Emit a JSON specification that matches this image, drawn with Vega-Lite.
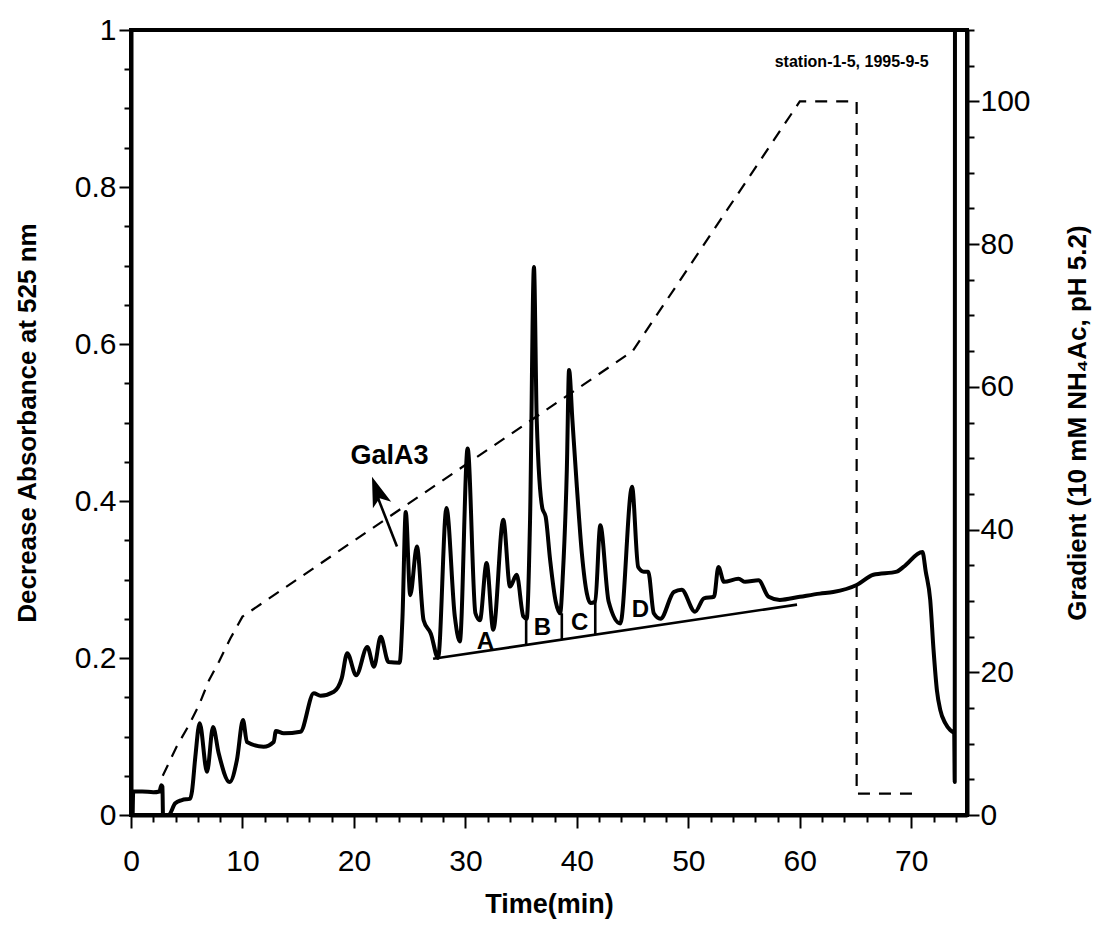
{
  "$schema": "https://vega.github.io/schema/vega-lite/v6.json",
  "width": 836,
  "height": 785,
  "autosize": {"type": "none"},
  "padding": {"left": 131, "top": 30, "right": 128, "bottom": 115},
  "background": "white",
  "config": {
    "view": {"stroke": "black", "strokeWidth": 4},
    "axis": {
      "grid": false,
      "domainColor": "black",
      "domainWidth": 4,
      "tickColor": "black",
      "tickWidth": 2,
      "labelColor": "black",
      "labelFont": "Liberation Sans",
      "labelFontSize": 30,
      "labelFontWeight": "normal",
      "labelOverlap": false,
      "labelFlush": false,
      "labelBound": false,
      "titleColor": "black",
      "titleFont": "Liberation Sans",
      "titleFontWeight": "bold",
      "titleFontSize": 26
    },
    "text": {"font": "Liberation Sans", "fontWeight": "bold", "color": "black"}
  },
  "datasets": {
    "trace": [
      {"t": 0.15, "v": 0.0, "ord": 1},
      {"t": 0.2, "v": 0.03, "ord": 2},
      {"t": 1.0, "v": 0.03, "ord": 3},
      {"t": 2.0, "v": 0.029, "ord": 4},
      {"t": 2.55, "v": 0.03, "ord": 5},
      {"t": 2.72, "v": 0.038, "ord": 6},
      {"t": 2.82, "v": 0.036, "ord": 7},
      {"t": 2.87, "v": 0.0, "ord": 8},
      {"t": 3.37, "v": 0.0, "ord": 9},
      {"t": 3.97, "v": 0.015, "ord": 10},
      {"t": 4.57, "v": 0.019, "ord": 11},
      {"t": 5.32, "v": 0.021, "ord": 12},
      {"t": 5.47, "v": 0.03, "ord": 13},
      {"t": 5.77, "v": 0.074, "ord": 14},
      {"t": 6.16, "v": 0.117, "ord": 15},
      {"t": 6.82, "v": 0.055, "ord": 16},
      {"t": 7.36, "v": 0.112, "ord": 17},
      {"t": 7.86, "v": 0.079, "ord": 18},
      {"t": 8.85, "v": 0.042, "ord": 19},
      {"t": 9.5, "v": 0.07, "ord": 20},
      {"t": 10.05, "v": 0.121, "ord": 21},
      {"t": 10.4, "v": 0.093, "ord": 22},
      {"t": 11.9, "v": 0.087, "ord": 23},
      {"t": 12.8, "v": 0.093, "ord": 24},
      {"t": 13.0, "v": 0.107, "ord": 25},
      {"t": 13.7, "v": 0.104, "ord": 26},
      {"t": 15.2, "v": 0.106, "ord": 27},
      {"t": 16.4, "v": 0.155, "ord": 28},
      {"t": 17.0, "v": 0.152, "ord": 29},
      {"t": 18.2, "v": 0.157, "ord": 30},
      {"t": 18.9, "v": 0.174, "ord": 31},
      {"t": 19.4, "v": 0.206, "ord": 32},
      {"t": 20.2, "v": 0.178, "ord": 33},
      {"t": 21.2, "v": 0.214, "ord": 34},
      {"t": 21.8, "v": 0.189, "ord": 35},
      {"t": 22.4, "v": 0.227, "ord": 36},
      {"t": 23.1, "v": 0.195, "ord": 37},
      {"t": 24.1, "v": 0.194, "ord": 38},
      {"t": 24.35, "v": 0.25, "ord": 39},
      {"t": 24.65, "v": 0.386, "ord": 40},
      {"t": 25.05, "v": 0.28, "ord": 41},
      {"t": 25.65, "v": 0.342, "ord": 42},
      {"t": 26.25, "v": 0.248, "ord": 43},
      {"t": 26.9, "v": 0.231, "ord": 44},
      {"t": 27.55, "v": 0.2, "ord": 45},
      {"t": 28.3, "v": 0.391, "ord": 46},
      {"t": 29.05, "v": 0.253, "ord": 47},
      {"t": 29.5, "v": 0.221, "ord": 48},
      {"t": 30.2, "v": 0.467, "ord": 49},
      {"t": 30.9, "v": 0.257, "ord": 50},
      {"t": 31.3, "v": 0.248, "ord": 51},
      {"t": 31.9, "v": 0.321, "ord": 52},
      {"t": 32.5, "v": 0.236, "ord": 53},
      {"t": 33.4, "v": 0.376, "ord": 54},
      {"t": 34.0, "v": 0.291, "ord": 55},
      {"t": 34.6, "v": 0.306, "ord": 56},
      {"t": 35.2, "v": 0.253, "ord": 57},
      {"t": 35.5, "v": 0.25, "ord": 58},
      {"t": 35.8, "v": 0.376, "ord": 59},
      {"t": 36.15, "v": 0.698, "ord": 60},
      {"t": 36.4, "v": 0.503, "ord": 61},
      {"t": 36.9, "v": 0.391, "ord": 62},
      {"t": 37.2, "v": 0.38, "ord": 63},
      {"t": 37.6, "v": 0.325, "ord": 64},
      {"t": 38.1, "v": 0.272, "ord": 65},
      {"t": 38.5, "v": 0.257, "ord": 66},
      {"t": 38.75, "v": 0.308, "ord": 67},
      {"t": 39.1, "v": 0.44, "ord": 68},
      {"t": 39.3, "v": 0.567, "ord": 69},
      {"t": 39.6, "v": 0.503, "ord": 70},
      {"t": 40.0, "v": 0.418, "ord": 71},
      {"t": 40.45, "v": 0.333, "ord": 72},
      {"t": 40.9, "v": 0.282, "ord": 73},
      {"t": 41.2, "v": 0.27, "ord": 74},
      {"t": 41.65, "v": 0.272, "ord": 75},
      {"t": 42.1, "v": 0.369, "ord": 76},
      {"t": 42.85, "v": 0.272, "ord": 77},
      {"t": 43.9, "v": 0.244, "ord": 78},
      {"t": 44.95, "v": 0.418, "ord": 79},
      {"t": 45.5, "v": 0.316, "ord": 80},
      {"t": 46.0, "v": 0.31, "ord": 81},
      {"t": 46.4, "v": 0.31, "ord": 82},
      {"t": 46.9, "v": 0.257, "ord": 83},
      {"t": 47.5, "v": 0.25, "ord": 84},
      {"t": 48.7, "v": 0.284, "ord": 85},
      {"t": 49.4, "v": 0.287, "ord": 86},
      {"t": 50.6, "v": 0.259, "ord": 87},
      {"t": 51.4, "v": 0.276, "ord": 88},
      {"t": 52.3, "v": 0.278, "ord": 89},
      {"t": 52.7, "v": 0.316, "ord": 90},
      {"t": 53.2, "v": 0.297, "ord": 91},
      {"t": 54.5, "v": 0.301, "ord": 92},
      {"t": 55.1, "v": 0.297, "ord": 93},
      {"t": 56.3, "v": 0.299, "ord": 94},
      {"t": 57.2, "v": 0.278, "ord": 95},
      {"t": 58.2, "v": 0.274, "ord": 96},
      {"t": 60.0, "v": 0.278, "ord": 97},
      {"t": 61.8, "v": 0.282, "ord": 98},
      {"t": 63.0, "v": 0.284, "ord": 99},
      {"t": 65.1, "v": 0.293, "ord": 100},
      {"t": 66.6, "v": 0.306, "ord": 101},
      {"t": 68.7, "v": 0.31, "ord": 102},
      {"t": 69.3, "v": 0.316, "ord": 103},
      {"t": 71.0, "v": 0.335, "ord": 104},
      {"t": 71.3, "v": 0.31, "ord": 105},
      {"t": 71.7, "v": 0.274, "ord": 106},
      {"t": 72.0, "v": 0.21, "ord": 107},
      {"t": 72.3, "v": 0.159, "ord": 108},
      {"t": 72.6, "v": 0.134, "ord": 109},
      {"t": 73.05, "v": 0.117, "ord": 110},
      {"t": 73.5, "v": 0.108, "ord": 111},
      {"t": 73.85, "v": 0.104, "ord": 112},
      {"t": 73.9, "v": 0.042, "ord": 113},
      {"t": 73.92, "v": 1.0, "ord": 114}
    ],
    "gradient": [
      {"t": 2.85, "g": 5.5, "ord": 1},
      {"t": 4.1, "g": 9.6, "ord": 2},
      {"t": 5.2, "g": 12.6, "ord": 3},
      {"t": 6.1, "g": 15.4, "ord": 4},
      {"t": 7.0, "g": 18.9, "ord": 5},
      {"t": 7.9, "g": 21.5, "ord": 6},
      {"t": 8.9, "g": 24.7, "ord": 7},
      {"t": 10.0, "g": 27.8, "ord": 8},
      {"t": 45.0, "g": 65.0, "ord": 9},
      {"t": 60.0, "g": 100, "ord": 10},
      {"t": 65.1, "g": 100, "ord": 11},
      {"t": 65.1, "g": 3.0, "ord": 12},
      {"t": 70.2, "g": 3.0, "ord": 13}
    ],
    "baseline": [{"t": 27.1, "v": 0.199, "t2": 59.75, "v2": 0.268}],
    "dividers": [
      {"t": 35.45, "v": 0.25, "v2": 0.2165},
      {"t": 38.65, "v": 0.257, "v2": 0.223},
      {"t": 41.65, "v": 0.271, "v2": 0.2297}
    ],
    "peaks": [
      {"t": 31.8, "v": 0.221, "label": "A"},
      {"t": 36.9, "v": 0.238, "label": "B"},
      {"t": 40.25, "v": 0.244, "label": "C"},
      {"t": 45.7, "v": 0.261, "label": "D"}
    ],
    "galA3": [{"t": 23.2, "v": 0.457, "label": "GalA3"}],
    "station": [{"t": 71.55, "v": 0.959, "label": "station-1-5,  1995-9-5"}],
    "shaft": [{"t": 23.86, "v": 0.342, "t2": 21.85, "v2": 0.415}],
    "head": [{"t": 21.62, "v": 0.431}]
  },
  "encoding": {
    "x": {
      "field": "t",
      "type": "quantitative",
      "scale": {"domain": [0, 75], "nice": false, "zero": false},
      "axis": {
        "title": "Time(min)",
        "titleFontSize": 27,
        "titlePadding": 15,
        "values": [0, 2, 4, 6, 8, 10, 12, 14, 16, 18, 20, 22, 24, 26, 28, 30, 32, 34, 36, 38, 40, 42, 44, 46, 48, 50, 52, 54, 56, 58, 60, 62, 64, 66, 68, 70, 72, 74],
        "labelExpr": "datum.value % 10 === 0 ? datum.label : ''",
        "tickSize": 13,
        "tickDash": {"condition": {"test": "datum.value % 10 !== 0", "value": [7, 40]}, "value": [40, 0]},
        "labelPadding": 18
      }
    }
  },
  "layer": [
    {
      "encoding": {
        "y": {
          "field": "v",
          "type": "quantitative",
          "scale": {"domain": [0, 1], "nice": false, "zero": false},
          "axis": {
            "orient": "left",
            "title": "Decrease Absorbance at 525 nm",
            "titlePadding": 34,
            "format": "~g",
            "values": [0, 0.05, 0.1, 0.15, 0.2, 0.25, 0.3, 0.35, 0.4, 0.45, 0.5, 0.55, 0.6, 0.65, 0.7, 0.75, 0.8, 0.85, 0.9, 0.95, 1],
            "labelExpr": "round(datum.value * 100) % 20 === 0 ? datum.label : ''",
            "tickSize": 12,
            "tickDash": {"condition": {"test": "round(datum.value * 100) % 20 !== 0", "value": [7, 40]}, "value": [40, 0]},
            "labelPadding": 3
          }
        }
      },
      "layer": [
        {
          "data": {"name": "trace"},
          "mark": {"type": "line", "color": "black", "strokeWidth": 4, "strokeJoin": "round", "interpolate": "monotone", "clip": true},
          "encoding": {"order": {"field": "ord", "type": "quantitative"}}
        },
        {
          "data": {"name": "baseline"},
          "mark": {"type": "rule", "color": "black", "strokeWidth": 2.6},
          "encoding": {"x2": {"field": "t2"}, "y2": {"field": "v2"}}
        },
        {
          "data": {"name": "dividers"},
          "mark": {"type": "rule", "color": "black", "strokeWidth": 2.6},
          "encoding": {"y2": {"field": "v2"}}
        },
        {
          "data": {"name": "peaks"},
          "mark": {"type": "text", "fontSize": 24, "align": "center", "baseline": "middle"},
          "encoding": {"text": {"field": "label"}}
        },
        {
          "data": {"name": "galA3"},
          "mark": {"type": "text", "fontSize": 27, "align": "center", "baseline": "middle"},
          "encoding": {"text": {"field": "label"}}
        },
        {
          "data": {"name": "station"},
          "mark": {"type": "text", "fontSize": 16, "align": "right", "baseline": "middle"},
          "encoding": {"text": {"field": "label"}}
        },
        {
          "data": {"name": "shaft"},
          "mark": {"type": "rule", "color": "black", "strokeWidth": 2.6},
          "encoding": {"x2": {"field": "t2"}, "y2": {"field": "v2"}}
        },
        {
          "data": {"name": "head"},
          "mark": {"type": "point", "shape": "M0,0L0.55,1.7L0,1.3L-0.55,1.7Z", "size": 1250, "angle": 340.4, "filled": true, "color": "black", "opacity": 1, "strokeWidth": 0}
        }
      ]
    },
    {
      "data": {"name": "gradient"},
      "mark": {"type": "line", "color": "black", "strokeWidth": 2.2, "strokeDash": [12, 9]},
      "encoding": {
        "y": {
          "field": "g",
          "type": "quantitative",
          "scale": {"domain": [0, 110], "nice": false, "zero": false},
          "axis": {
            "orient": "right",
            "title": "Gradient (10 mM NH₄Ac, pH 5.2)",
            "titleAngle": 270,
            "titleBaseline": "top",
            "titlePadding": 34,
            "values": [0, 5, 10, 15, 20, 25, 30, 35, 40, 45, 50, 55, 60, 65, 70, 75, 80, 85, 90, 95, 100, 105, 110],
            "labelExpr": "datum.value % 20 === 0 ? datum.label : ''",
            "tickSize": 12,
            "tickDash": {"condition": {"test": "datum.value % 20 !== 0", "value": [7, 40]}, "value": [40, 0]},
            "labelPadding": 1
          }
        },
        "order": {"field": "ord", "type": "quantitative"}
      }
    }
  ],
  "resolve": {"scale": {"y": "independent"}, "axis": {"y": "independent"}}
}
